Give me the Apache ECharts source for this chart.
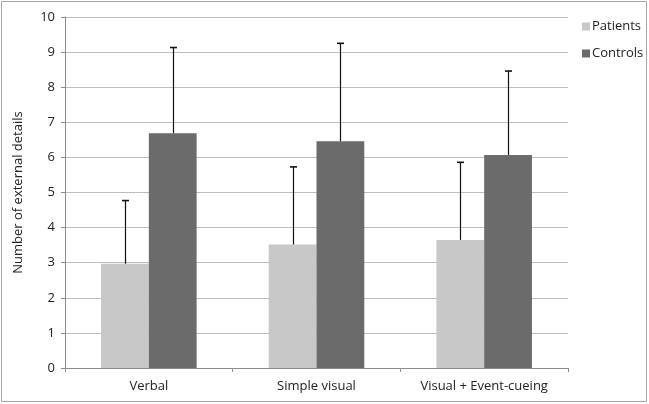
<!DOCTYPE html>
<html>
<head>
<meta charset="utf-8">
<script src="https://cdn.jsdelivr.net/npm/echarts@6/dist/echarts.min.js"></script>
<style>
html, body { margin: 0; padding: 0; background: #fff; }
#chart { width: 649px; height: 404px; }
</style>
</head>
<body>
<div id="chart"></div>
<script>
// data
const conditions = ['Verbal', 'Simple visual', 'Visual + Event-cueing']
const patientsMean = [2.97, 3.52, 3.65]
const patientsSD = [1.80, 2.21, 2.21]
const controlsMean = [6.69, 6.46, 6.07]
const controlsSD = [2.44, 2.79, 2.39]
const yTicks = [0, 1, 2, 3, 4, 5, 6, 7, 8, 9, 10]

const catGap = 0.43
const fontFam = '"Open Sans", "Noto Sans", sans-serif'

// upper error whisker drawn on top of a bar; side = -1 left bar, +1 right bar
function errorSeries(name, means, sds, side) {
    return {
        type: 'custom',
        name: name + ' err',
        z: 5,
        silent: true,
        data: means.map((m, i) => [i, m, m + sds[i]]),
        renderItem: function (params, api) {
            let band = api.size([1, 0])[0]
            let barW = band * (1 - catGap) / 2
            let base = api.coord([api.value(0), api.value(1)])
            let top = api.coord([api.value(0), api.value(2)])
            let x = Math.round(base[0] + side * barW / 2) + 0.5
            let style = { stroke: '#111', lineWidth: 1.2 }
            return {
                type: 'group',
                children: [
                    { type: 'line', shape: { x1: x, y1: base[1], x2: x, y2: top[1] }, style: style },
                    { type: 'line', shape: { x1: x - 3.5, y1: top[1], x2: x + 3.5, y2: top[1] }, style: { stroke: '#111', lineWidth: 1.6 } }
                ]
            }
        }
    }
}

let myChart = echarts.init(document.getElementById('chart'))
myChart.setOption({
    animation: false,
    textStyle: { fontFamily: fontFam },
    graphic: [{
        type: 'rect',
        shape: { x: 1.5, y: 1.5, width: 645, height: 400 },
        style: { fill: 'none', stroke: '#a6a6a6', lineWidth: 1 },
        silent: true
    }],
    grid: { left: 65, right: 81, top: 17, bottom: 36 },
    legend: {
        orient: 'vertical',
        left: 577,
        top: 15,
        itemWidth: 8,
        itemHeight: 8,
        itemGap: 14,
        icon: 'rect',
        data: ['Patients', 'Controls'],
        textStyle: { fontSize: 13, color: '#222', fontFamily: fontFam, padding: [0, 0, 0, -3] }
    },
    xAxis: {
        type: 'category',
        data: conditions,
        axisLine: { lineStyle: { color: '#8c8c8c' } },
        axisTick: { show: true, length: 4, alignWithLabel: false, lineStyle: { color: '#8c8c8c' } },
        axisLabel: { color: '#222', fontSize: 13, margin: 12 }
    },
    yAxis: {
        type: 'value',
        min: yTicks[0],
        max: yTicks[yTicks.length - 1],
        interval: 1,
        name: 'Number of external details',
        nameLocation: 'middle',
        nameGap: 40,
        nameTextStyle: { color: '#222', fontSize: 13 },
        axisLine: { show: true, lineStyle: { color: '#8c8c8c' } },
        axisTick: { show: true, length: 4, lineStyle: { color: '#8c8c8c' } },
        axisLabel: { color: '#222', fontSize: 13, margin: 10 },
        splitLine: { lineStyle: { color: '#bdbdbd', width: 1.2 } }
    },
    series: [
        {
            name: 'Patients',
            type: 'bar',
            data: patientsMean,
            barGap: '0%',
            barCategoryGap: (catGap * 100) + '%',
            itemStyle: { color: '#c8c8c8' }
        },
        {
            name: 'Controls',
            type: 'bar',
            data: controlsMean,
            barGap: '0%',
            barCategoryGap: (catGap * 100) + '%',
            itemStyle: { color: '#6b6b6b' }
        },
        errorSeries('Patients', patientsMean, patientsSD, -1),
        errorSeries('Controls', controlsMean, controlsSD, 1)
    ]
})
</script>
</body>
</html>
